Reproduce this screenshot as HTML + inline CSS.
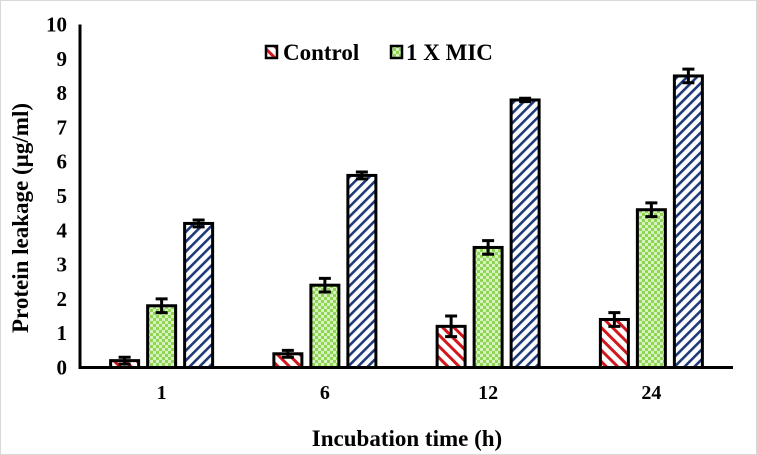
<!DOCTYPE html>
<html><head><meta charset="utf-8"><style>
html,body{margin:0;padding:0;background:#fff;}
svg{display:block;font-family:"Liberation Serif",serif;font-weight:bold;}
</style></head><body>
<svg id="chart" width="757" height="455" viewBox="0 0 757 455">
<defs>
<pattern id="pRed" width="8" height="8" patternUnits="userSpaceOnUse" patternTransform="rotate(-45)">
<rect width="8" height="8" fill="#fff"/><rect width="3" height="8" fill="#d0181c"/></pattern>
<pattern id="pBlue" width="7" height="7" patternUnits="userSpaceOnUse" patternTransform="rotate(45)">
<rect width="7" height="7" fill="#fff"/><rect width="2.6" height="7" fill="#1f3a7a"/></pattern>
<pattern id="pGreen" width="6" height="6" patternUnits="userSpaceOnUse">
<rect width="6" height="6" fill="#8fd454"/><rect width="3" height="3" fill="#d6f2bd"/><rect x="3" y="3" width="3" height="3" fill="#d6f2bd"/></pattern>
</defs>
<rect x="0.5" y="0.5" width="756" height="454" fill="#fff" stroke="#d9d9d9"/>
<g id="axes"></g>
<g id="bars"></g>
<text x="28" y="218" font-size="23" text-anchor="middle" transform="rotate(-90 28 218)">Protein leakage (µg/ml)</text>
<text x="407" y="446" font-size="23" text-anchor="middle">Incubation time (h)</text>
<g>
<rect x="266" y="46" width="11" height="12" fill="url(#pRed)" stroke="#000" stroke-width="2.5"/>
<text x="283" y="60" font-size="23">Control</text>
<rect x="391" y="46" width="11" height="12" fill="url(#pGreen)" stroke="#000" stroke-width="2.5"/>
<text x="406" y="60" font-size="23">1 X MIC</text>
</g>
</svg>
<script>
const categories=["1","6","12","24"];
const controlValues=[0.2,0.4,1.2,1.4];
const controlErr=[0.1,0.1,0.3,0.2];
const micValues=[1.8,2.4,3.5,4.6];
const micErr=[0.2,0.2,0.2,0.2];
const highValues=[4.2,5.6,7.8,8.5];
const highErr=[0.1,0.1,0.05,0.2];
const yTicks=[0,1,2,3,4,5,6,7,8,9,10];

const NS="http://www.w3.org/2000/svg";
const x0=80,x1=733,y0=367.5,yTop=24.5;
const y=v=>y0-(v/10)*(y0-yTop);
const band=(x1-x0)/categories.length;
const xc=i=>x0+(i+0.5)*band;
function mk(tag,at,parent){const e=document.createElementNS(NS,tag);for(const k in at)e.setAttribute(k,at[k]);parent.appendChild(e);return e;}
const axes=document.getElementById('axes'),bars=document.getElementById('bars');
yTicks.forEach(t=>{
 const tx=mk('text',{x:67,y:y(t)+7,'font-size':21,'text-anchor':'end'},axes);
 tx.textContent=t;
 
 
});
categories.forEach((c,i)=>{
 const tx=mk('text',{x:xc(i),y:399,'font-size':20,'text-anchor':'middle'},axes);
 tx.textContent=c;
 
 
});
const series=[[controlValues,controlErr,'url(#pRed)','control'],[micValues,micErr,'url(#pGreen)','mic'],[highValues,highErr,'url(#pBlue)','high']];
const bw=28,step=37;
categories.forEach((c,i)=>{
 series.forEach((s,j)=>{
  const v=s[0][i],e=s[1][i];
  const cx=xc(i)+(j-1)*step;
  const r=mk('rect',{x:cx-bw/2,y:y(v),width:bw,height:y0-y(v),fill:s[2],stroke:'#000','stroke-width':3},bars);
  
  
  const g=mk('path',{d:`M${cx} ${y(v+e)}V${y(v-e)}M${cx-6} ${y(v+e)}H${cx+6}M${cx-6} ${y(v-e)}H${cx+6}`,stroke:'#000','stroke-width':3,fill:'none'},bars);
  
  
 });
});
const ya=mk('line',{x1:x0,y1:yTop,x2:x0,y2:y0+1.5,stroke:'#000','stroke-width':3},axes);


const xa=mk('line',{x1:x0-1.5,y1:y0,x2:x1,y2:y0,stroke:'#000','stroke-width':3},bars);


</script>
</body></html>
